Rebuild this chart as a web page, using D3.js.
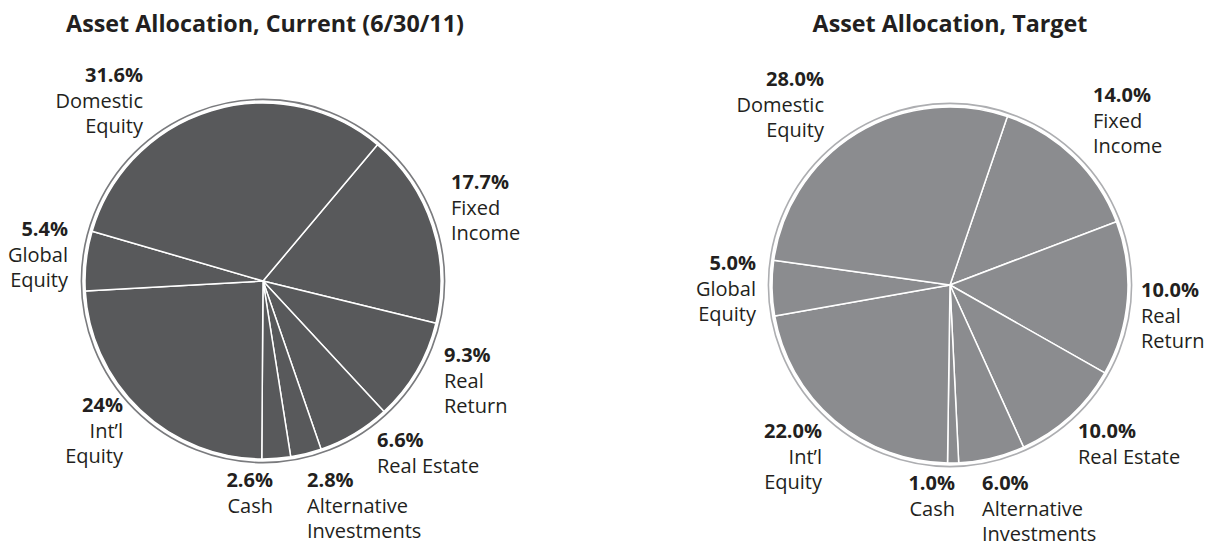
<!DOCTYPE html>
<html>
<head>
<meta charset="utf-8">
<script src="https://cdnjs.cloudflare.com/ajax/libs/d3/7.8.5/d3.min.js"></script>
<style>
  body { margin: 0; background: #fff; }
  text { font-family: "Open Sans", "DejaVu Sans", sans-serif; fill: #231f20; }
</style>
</head>
<body>
<script>
// slice order goes clockwise, starting at the Domestic / Fixed Income border
var categories = ['Fixed\nIncome', 'Real\nReturn', 'Real Estate', 'Alternative\nInvestments',
                  'Cash', 'Int\u2019l\nEquity', 'Global\nEquity', 'Domestic\nEquity'];

var currentValues = [17.7, 9.3, 6.6, 2.8, 2.6, 24, 5.4, 31.6];
var currentLabels = ['17.7%', '9.3%', '6.6%', '2.8%', '2.6%', '24%', '5.4%', '31.6%'];

// the drawn Real Return wedge is wider than its 10.0% label (about 14% of the circle)
var targetValues = [14, 14, 10, 6, 1, 22, 5, 28];
var targetLabels = ['14.0%', '10.0%', '10.0%', '6.0%', '1.0%', '22.0%', '5.0%', '28.0%'];

var titles = ['Asset Allocation, Current (6/30/11)', 'Asset Allocation, Target'];

var screen = {width: 1205, height: 546};

var svg = d3.select('body').append('svg')
            .attr('width', screen.width)
            .attr('height', screen.height);

// label placement, offsets from the pie centre (x, first baseline, anchor)
var currentLayout = [
  [188, -92, 'start'], [181, 81, 'start'], [114, 166, 'start'], [44, 206, 'start'],
  [10, 206, 'end'], [-140, 131, 'end'], [-195, -45, 'end'], [-120, -199, 'end']
];
var targetLayout = [
  [143, -183, 'start'], [191, 12, 'start'], [128, 153, 'start'], [32, 205, 'start'],
  [5, 205, 'end'], [-128, 153, 'end'], [-194, -15, 'end'], [-126, -199, 'end']
];

var charts = [
  {title: titles[0], values: currentValues, labels: currentLabels, layout: currentLayout,
   cx: 263, cy: 281, start: 40, fill: '#58595b', ring: '#7a7b7e', titleX: 265},
  {title: titles[1], values: targetValues, labels: targetLabels, layout: targetLayout,
   cx: 950, cy: 285, start: 18.8, fill: '#8b8c8f', ring: '#adaeb1', titleX: 950}
];

var radius = 178;
var lineHeight = 25.5;

charts.forEach(function(chart){
  var g = svg.append('g')
             .attr('transform', 'translate(' + chart.cx + ',' + chart.cy + ')');

  var a0 = chart.start * Math.PI / 180;
  var pie = d3.pie()
              .sort(null)
              .startAngle(a0)
              .endAngle(a0 + 2 * Math.PI);
  var arc = d3.arc().innerRadius(0).outerRadius(radius);

  // thin outer ring
  g.append('circle')
   .attr('r', radius + 3.6)
   .attr('fill', 'none')
   .attr('stroke', chart.ring)
   .attr('stroke-width', 1.6);

  g.selectAll('path')
   .data(pie(chart.values))
   .enter()
   .append('path')
   .attr('d', arc)
   .attr('fill', chart.fill)
   .attr('stroke', '#fff')
   .attr('stroke-width', 1.5)
   .attr('stroke-linejoin', 'round');

  svg.append('text')
     .attr('x', chart.titleX)
     .attr('y', 32)
     .attr('text-anchor', 'middle')
     .attr('font-size', 23.3)
     .attr('font-weight', 'bold')
     .text(chart.title);

  chart.values.forEach(function(v, i){
    var pos = chart.layout[i];
    var t = g.append('text')
             .attr('text-anchor', pos[2])
             .attr('font-size', 20);
    t.append('tspan')
     .attr('x', pos[0])
     .attr('y', pos[1])
     .attr('font-weight', 'bold')
     .text(chart.labels[i]);
    categories[i].split('\n').forEach(function(line, j){
      t.append('tspan')
       .attr('x', pos[0])
       .attr('y', pos[1] + (j + 1) * lineHeight)
       .text(line);
    });
  });
});
</script>
</body>
</html>
